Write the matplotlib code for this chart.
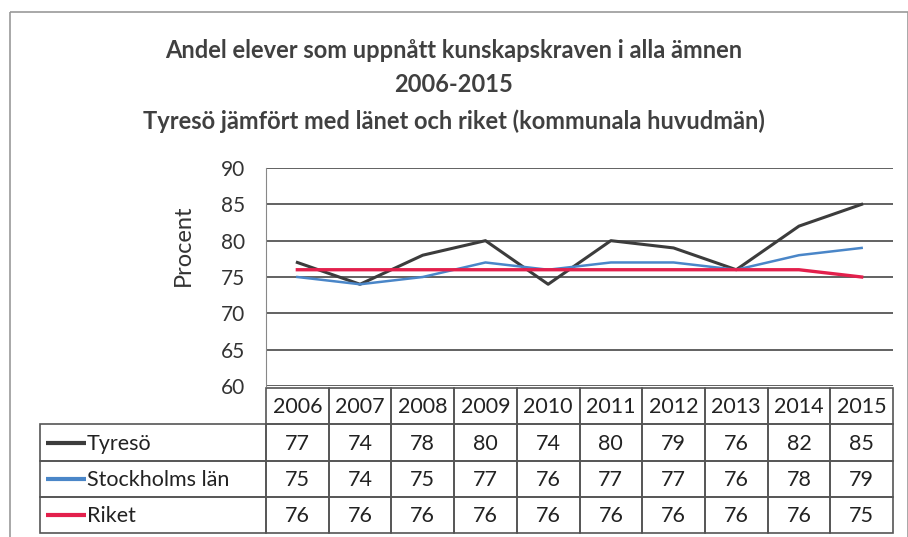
import matplotlib.pyplot as plt
from matplotlib.patches import Rectangle

plt.rcParams['font.family'] = ['Lato', 'DejaVu Sans']

years = ['2006', '2007', '2008', '2009', '2010', '2011', '2012', '2013', '2014', '2015']
series_names = ['Tyresö', 'Stockholms län', 'Riket']
tyreso = [77, 74, 78, 80, 74, 80, 79, 76, 82, 85]
stockholm = [75, 74, 75, 77, 76, 77, 77, 76, 78, 79]
riket = [76, 76, 76, 76, 76, 76, 76, 76, 76, 75]
values = [tyreso, stockholm, riket]
colors = ['#3c3c3c', '#4a86c8', '#e3204c']
widths = [2.2, 1.8, 2.4]

W, H = 908, 537
fig = plt.figure(figsize=(W / 100, H / 100), dpi=100)

# pixel layout
plot_l, plot_r = 266, 893
plot_t, plot_b = 168, 386
lab_l = 40
row_tops = [388, 424, 461, 497, 533]

def fx(px):
    return px / W

def fy(py):
    return 1 - py / H

# outer frame
bg = fig.add_axes([0, 0, 1, 1])
bg.set_xlim(0, W)
bg.set_ylim(H, 0)
bg.axis('off')
bg.add_patch(Rectangle((10, 12), W - 10, H - 8, fill=False, ec='#9a9a9a', lw=1.2))

title_kw = dict(ha='center', va='center', fontsize=17, fontweight='bold', color='#404040')
fig.text(0.5, fy(50), 'Andel elever som uppnått kunskapskraven i alla ämnen', **title_kw)
fig.text(0.5, fy(85), '2006-2015', **title_kw)
fig.text(0.5, fy(121), 'Tyresö jämfört med länet och riket (kommunala huvudmän)', **title_kw)

ax = fig.add_axes([fx(plot_l), fy(plot_b), fx(plot_r - plot_l), (plot_b - plot_t) / H])
x = list(range(len(years)))
for vals, c, lw in zip(values, colors, widths):
    ax.plot(x, vals, color=c, lw=lw, solid_joinstyle='round', zorder=3)
ax.set_xlim(-0.5, len(years) - 0.5)
ax.set_ylim(60, 90)
ax.set_yticks(range(60, 91, 5))
ax.set_xticks([])
ax.grid(axis='y', color='#555555', lw=1.3)
for s in ['top', 'right', 'bottom']:
    ax.spines[s].set_visible(False)
ax.spines['left'].set_color('#888888')
ax.tick_params(axis='y', length=0, labelsize=15, colors='#333333', pad=15)
fig.text(fx(183), fy(245), 'Procent', rotation=90, ha='center', va='center',
         fontsize=17, color='#333333')

# data table
col_w = (plot_r - plot_l) / len(years)
lc = '#555555'
tk = dict(va='center', fontsize=15.5, color='#222222')
for i, yr in enumerate(years):
    x0 = plot_l + i * col_w
    bg.add_patch(Rectangle((x0, row_tops[0]), col_w, row_tops[1] - row_tops[0],
                           fill=False, ec=lc, lw=1.2))
    bg.text(x0 + col_w / 2, (row_tops[0] + row_tops[1]) / 2 + 1, yr, ha='center', **tk)
for r, (name, vals, c) in enumerate(zip(series_names, values, colors)):
    top, bot = row_tops[r + 1], row_tops[r + 2]
    ym = (top + bot) / 2
    bg.add_patch(Rectangle((lab_l, top), plot_l - lab_l, bot - top, fill=False, ec=lc, lw=1.2))
    bg.plot([46, 86], [ym, ym], color=c, lw=3, solid_capstyle='butt')
    bg.text(87, ym + 1, name, ha='left', **tk)
    for i, v in enumerate(vals):
        x0 = plot_l + i * col_w
        bg.add_patch(Rectangle((x0, top), col_w, bot - top, fill=False, ec=lc, lw=1.2))
        bg.text(x0 + col_w / 2, ym + 1, str(v), ha='center', **tk)

fig.savefig('out.png', dpi=100)
